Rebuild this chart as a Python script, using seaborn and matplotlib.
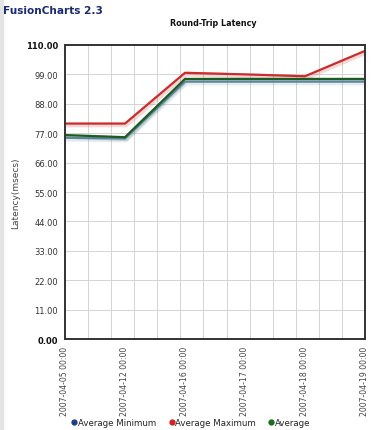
import matplotlib
matplotlib.use("Agg")
import matplotlib.pyplot as plt
import matplotlib.patheffects as pe
import numpy as np
import pandas as pd
import seaborn as sns

dates = ["2007-04-05 00:00", "2007-04-12 00:00", "2007-04-16 00:00",
         "2007-04-17 00:00", "2007-04-18 00:00", "2007-04-19 00:00"]
avg_min = [75.3, 75.0, 96.3, 96.3, 96.3, 96.3]
avg_max = [80.6, 80.6, 99.6, 99.0, 98.3, 107.8]
average = [76.3, 75.5, 97.3, 97.3, 97.3, 97.3]

series = ["Average Minimum", "Average Maximum", "Average"]
colors = {"Average Minimum": "#6a8fb8", "Average Maximum": "#cc2b2b", "Average": "#1d5c20"}
marker_colors = ["#1f3c88", "#d42020", "#1d6b22"]

df = pd.DataFrame({
    "pos": list(range(len(dates))) * 3,
    "value": avg_min + avg_max + average,
    "series": [s for s in series for _ in dates],
})

sns.set_style("white")
plt.rcParams["font.family"] = ["DejaVu Sans"]

fig = plt.figure(figsize=(3.81, 4.31), dpi=100)
ax = fig.add_axes([0.1706, 0.2111, 0.958 - 0.1706, 0.8933 - 0.2111])

sns.lineplot(data=df, x="pos", y="value", hue="series", hue_order=series,
             palette=colors, ax=ax, linewidth=1.6, legend=False)

for line in ax.get_lines():
    c = line.get_color()
    line.set_path_effects([
        pe.SimpleLineShadow(offset=(0.8, -1.0), shadow_color=c, alpha=0.18, linewidth=3.5),
        pe.Normal(),
    ])

ax.set_xlim(0, len(dates) - 1)
ax.set_ylim(0, 110)
yt = np.arange(0, 111, 11)
ax.set_yticks(yt)
ax.set_yticklabels(["%.2f" % v for v in yt], fontsize=6, color="#333333")
for lab in ax.get_yticklabels():
    if lab.get_text() in ("110.00", "0.00"):
        lab.set_fontweight("bold")
        lab.set_color("#111111")

ax.set_xticks(range(len(dates)))
ax.set_xticklabels(dates, rotation=90, fontsize=5.6, color="#444444")
ax.set_xticks(np.linspace(0, len(dates) - 1, 14), minor=True)
ax.xaxis.grid(True, which="minor", color="#d4d4d4", linewidth=0.7)
ax.xaxis.grid(False, which="major")
ax.yaxis.grid(True, which="major", color="#d4d4d4", linewidth=0.7)
ax.tick_params(axis="both", which="major", length=3, width=0.8, color="#333333", pad=2)
ax.tick_params(which="minor", length=0)
ax.set_axisbelow(True)

for sp in ax.spines.values():
    sp.set_visible(True)
    sp.set_color("#333333")
    sp.set_linewidth(1.4)

ax.set_xlabel("")
ax.set_ylabel("Latency(msecs)", fontsize=6.5, color="#444444")
ax.yaxis.set_label_coords(-0.15, 0.5)

fig.text(0.008, 0.985, "FusionCharts 2.3", fontsize=7.6, fontweight="bold",
         color="#1c2a6e", ha="left", va="top")
fig.text(0.56, 0.957, "Round-Trip Latency", fontsize=5.8, fontweight="bold",
         color="#111111", ha="center", va="top")

handles = [plt.Line2D([], [], marker="o", linestyle="", color=c, markersize=3.5)
           for c in marker_colors]
fig.legend(handles, series, loc="center", bbox_to_anchor=(0.5, 0.017),
           ncol=3, frameon=False, fontsize=6.2, handletextpad=0.0,
           columnspacing=1.3, handlelength=0.9, labelcolor="#222222")

fig.patches.append(plt.Rectangle((0, 0), 0.007, 1, transform=fig.transFigure,
                                 color="#e4e4e4", zorder=-1))

fig.savefig("out.png", dpi=100)
